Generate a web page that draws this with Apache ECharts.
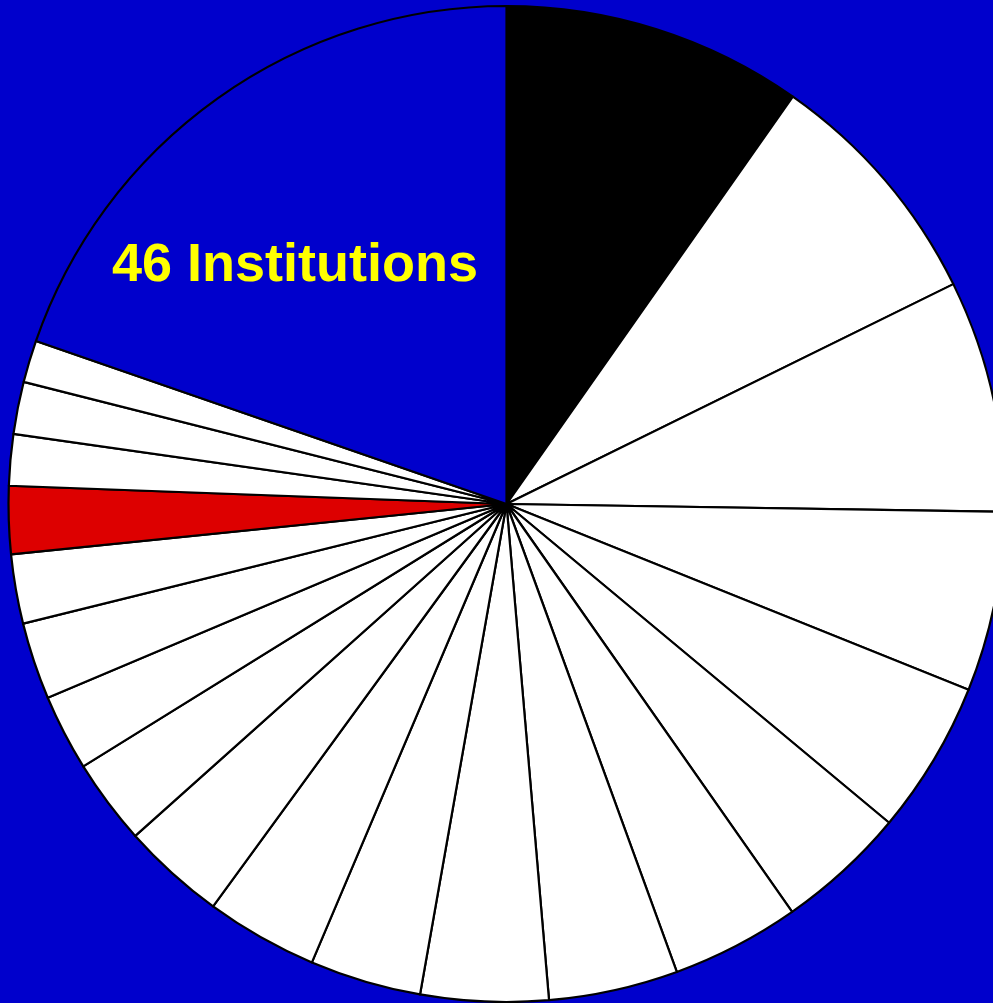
<!DOCTYPE html>
<html>
<head>
<meta charset="utf-8">
<script src="https://cdn.jsdelivr.net/npm/echarts@6/dist/echarts.min.js"></script>
<style>
html,body{margin:0;padding:0;background:#0000CC;}
#chart{width:993px;height:1003px;}
</style>
</head>
<body>
<div id="chart"></div>
<script>
// slice sizes (degrees of the circle), clockwise from 12 o'clock
const categories = ['s1','s2','s3','s4','s5','s6','s7','s8','s9','s10','s11','s12','s13','s14','s15','s16','s17','s18','s19','s20','46 Institutions'];
const values = [35.1, 28.7, 27.1, 21.0, 17.9, 15.2, 15.0, 15.1, 14.9, 13.0, 13.1, 12.1, 10.0, 8.9, 9.0, 8.1, 7.9, 6.0, 6.1, 4.9, 70.9];
const colors = ['#000000','#FFFFFF','#FFFFFF','#FFFFFF','#FFFFFF','#FFFFFF','#FFFFFF','#FFFFFF','#FFFFFF','#FFFFFF','#FFFFFF','#FFFFFF','#FFFFFF','#FFFFFF','#FFFFFF','#FFFFFF','#DD0000','#FFFFFF','#FFFFFF','#FFFFFF','#0000CC'];
const labelText = '46 Institutions';

const chart = echarts.init(document.getElementById('chart'), null, {renderer:'canvas'});
chart.setOption({
  backgroundColor: '#0000CC',
  animation: false,
  title: {
    text: labelText,
    left: 112,
    top: 239,
    padding: 0,
    z: 10,
    textStyle: {
      color: '#FFFF00',
      fontSize: 54,
      fontWeight: 'bold',
      fontFamily: '"Liberation Sans", Arial, sans-serif'
    }
  },
  series: [{
    type: 'pie',
    center: [506.5, 504],
    radius: [0, 498],
    startAngle: 90,
    clockwise: true,
    avoidLabelOverlap: false,
    label: {show: false},
    labelLine: {show: false},
    emphasis: {disabled: true},
    itemStyle: {borderColor: '#000000', borderWidth: 2.2},
    data: categories.map((c, i) => ({name: c, value: values[i], itemStyle: {color: colors[i]}}))
  }]
});
</script>
</body>
</html>
